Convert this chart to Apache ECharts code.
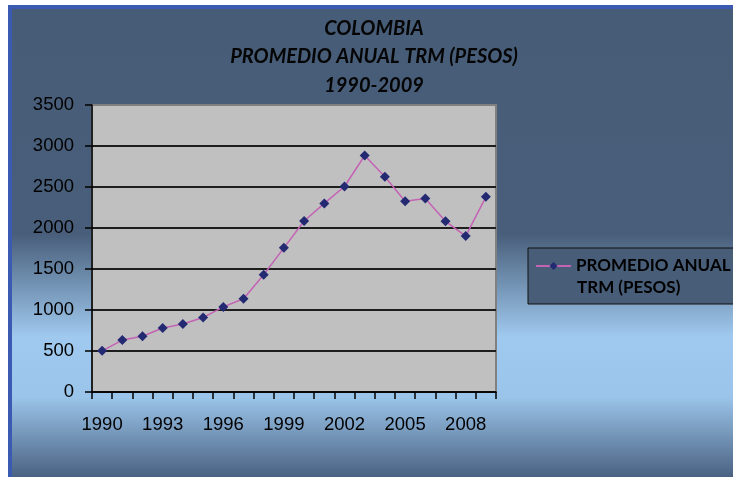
<!DOCTYPE html>
<html>
<head>
<meta charset="utf-8">
<script src="https://cdn.jsdelivr.net/npm/echarts@6/dist/echarts.min.js"></script>
<style>
html,body{margin:0;padding:0;background:#ffffff;}
#chart{width:733px;height:477px;}
</style>
</head>
<body>
<div id="chart"></div>
<script>
const years = ['1990','1991','1992','1993','1994','1995','1996','1997','1998','1999','2000','2001','2002','2003','2004','2005','2006','2007','2008','2009'];
const trmValues = [502, 633, 680, 780, 829, 908, 1038, 1138, 1430, 1758, 2085, 2300, 2506, 2884, 2626, 2326, 2360, 2082, 1902, 2380];
const yTicks = [0, 500, 1000, 1500, 2000, 2500, 3000, 3500];
const seriesName = 'PROMEDIO ANUAL TRM (PESOS)';
const legendLine1 = 'PROMEDIO ANUAL';
const legendLine2 = 'TRM (PESOS)';
const titleText = 'COLOMBIA\nPROMEDIO ANUAL TRM (PESOS)\n1990-2009';

const chart = echarts.init(document.getElementById('chart'), null, {renderer: 'canvas'});
const option = {
  animation: false,
  backgroundColor: '#ffffff',
  graphic: [
    {type: 'rect', z: -10, silent: true, shape: {x: 8, y: 5, width: 725, height: 472}, style: {fill: '#3b5bb2'}},
    {type: 'rect', z: -9, silent: true, shape: {x: 12, y: 9, width: 721, height: 468},
      style: {fill: new echarts.graphic.LinearGradient(0, 0, 0, 1, [
        {offset: 0, color: '#475c77'},
        {offset: 0.48, color: '#485e7a'},
        {offset: 0.70, color: '#9fc9ee'},
        {offset: 0.83, color: '#9ac4e9'},
        {offset: 1, color: '#4a6282'}
      ])}},
    {type: 'text', z: 100, silent: true, left: 577, top: 279,
      style: {text: legendLine2, fontFamily: 'Lato', fontWeight: 'bold', fontSize: 17, fill: '#000000'}}
  ],
  title: {
    text: titleText,
    left: 374,
    top: 14,
    padding: 0,
    textAlign: 'center',
    textStyle: {
      fontFamily: 'Lato',
      fontStyle: 'italic',
      fontWeight: 'bold',
      fontSize: 20,
      lineHeight: 28.5,
      color: '#050505'
    }
  },
  legend: {
    left: 528,
    top: 248,
    orient: 'vertical',
    backgroundColor: '#475d78',
    borderColor: '#111111',
    borderWidth: 1,
    padding: [7, 30, 27, 7],
    itemWidth: 35,
    itemHeight: 10,
    formatter: function () { return legendLine1; },
    textStyle: {
      fontFamily: 'Lato',
      fontWeight: 'bold',
      fontSize: 17,
      lineHeight: 22,
      color: '#000000'
    },
    data: [seriesName]
  },
  grid: {
    left: 92,
    top: 105,
    right: 237,
    bottom: 85,
    show: true,
    backgroundColor: '#c0c0c0',
    borderColor: '#808080',
    borderWidth: 2
  },
  xAxis: {
    type: 'category',
    data: years,
    boundaryGap: true,
    axisLine: {lineStyle: {color: '#000000', width: 1.5}},
    axisTick: {show: true, interval: 0, length: 7, lineStyle: {color: '#000000', width: 1.5}},
    axisLabel: {
      interval: 2,
      margin: 23,
      fontFamily: 'Liberation Sans',
      fontSize: 18.5,
      color: '#000000'
    },
    splitLine: {show: false}
  },
  yAxis: {
    type: 'value',
    min: yTicks[0],
    max: yTicks[yTicks.length - 1],
    interval: 500,
    axisLine: {show: true, lineStyle: {color: '#000000', width: 1.5}},
    axisTick: {show: true, length: 7, lineStyle: {color: '#000000', width: 1.5}},
    axisLabel: {
      margin: 18,
      fontFamily: 'Liberation Sans',
      fontSize: 18.5,
      color: '#000000',
      formatter: function (v) { return String(v); }
    },
    splitLine: {show: true, lineStyle: {color: ['#1e1e1e','#1e1e1e','#1e1e1e','#1e1e1e','#1e1e1e','#1e1e1e','#1e1e1e','#808080'], width: 2}}
  },
  series: [{
    name: seriesName,
    type: 'line',
    data: trmValues,
    symbol: 'diamond',
    symbolSize: 10,
    showSymbol: true,
    lineStyle: {color: '#c462b4', width: 1.5},
    itemStyle: {color: '#232a72', borderWidth: 0}
  }]
};
chart.setOption(option);
</script>
</body>
</html>
